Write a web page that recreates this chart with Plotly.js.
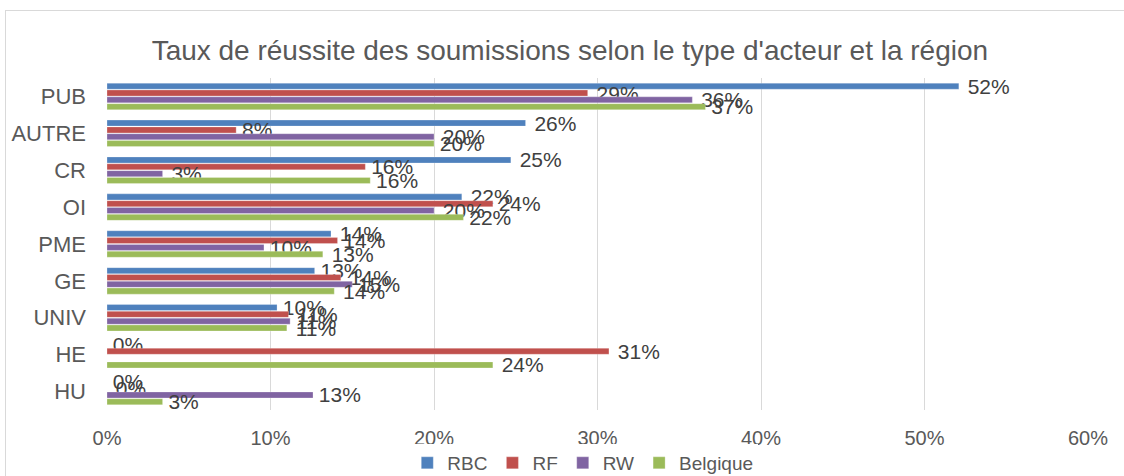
<!DOCTYPE html>
<html>
<head>
<meta charset="utf-8">
<script src="https://cdn.plot.ly/plotly-3.0.1.min.js"></script>
<style>
  html, body { margin: 0; padding: 0; background: #ffffff; }
  #wrap { position: relative; width: 1124px; height: 476px; overflow: hidden; }
  #chart { position: absolute; left: 0; top: 0; width: 1124px; height: 476px; }
  #frame { position: absolute; left: 5px; top: 10px; width: 1130px; height: 480px; border: 1px solid #d9d9d9; pointer-events: none; }
</style>
</head>
<body>
<div id="wrap">
  <div id="chart"></div>
  <div id="frame"></div>
</div>
<script>
// Categories (top to bottom)
const categories = ["PUB", "AUTRE", "CR", "OI", "PME", "GE", "UNIV", "HE", "HU"];
// Success rate (%) by region
const rbc      = [52.1, 25.6, 24.7, 21.7, 13.7, 12.7, 10.4, 0,    0];
const rf       = [29.4,  7.9, 15.8, 23.6, 14.1, 14.3, 11.1, 30.7, 0];
const rw       = [35.8, 20.0,  3.4, 20.0,  9.6, 15.0, 11.2, null, 12.6];
const belgique = [36.6, 20.0, 16.1, 21.8, 13.2, 13.9, 11.0, 23.6, 3.4];
const seriesNames = ["RBC", "RF", "RW", "Belgique"];
const seriesColors = ["#4F81BD", "#C0504D", "#8064A2", "#9BBB59"];
const xTicks = [0, 10, 20, 30, 40, 50, 60];

const FONT = "'Liberation Sans', Arial, sans-serif";

const allSeries = [rbc, rf, rw, belgique];
const traces = allSeries.map((vals, i) => ({
  type: "bar",
  orientation: "h",
  name: seriesNames[i],
  y: categories,
  x: vals,
  marker: { color: seriesColors[i], line: { color: "rgba(255,255,255,0.5)", width: 0.5 } },
  texttemplate: "\u00a0%{x:.0f}%",
  textposition: "outside",
  constraintext: "none",
  cliponaxis: false,
  textfont: { family: FONT, size: 21, color: "#404040" },
  hoverinfo: "x+y+name"
}));

const layout = {
  width: 1124,
  height: 476,
  margin: { l: 107, r: 36, t: 78, b: 66, pad: 0, autoexpand: false },
  paper_bgcolor: "#ffffff",
  plot_bgcolor: "#ffffff",
  font: { family: FONT, color: "#595959" },
  title: {
    text: "Taux de réussite des soumissions selon le type d'acteur et la région",
    font: { family: FONT, size: 28, color: "#595959" },
    x: 0.507, xanchor: "center",
    y: 1 - 50 / 476, yanchor: "middle", yref: "container"
  },
  barmode: "group",
  bargap: 0.26,
  bargroupgap: 0.12,
  xaxis: {
    range: [0, 60],
    tickvals: xTicks,
    ticktext: xTicks.map(v => v + "%"),
    showgrid: true,
    gridcolor: "#d9d9d9",
    gridwidth: 1,
    zeroline: false,
    showline: false,
    ticks: "",
    ticklabelstandoff: 14,
    tickfont: { family: FONT, size: 20, color: "#595959" },
    fixedrange: true
  },
  yaxis: {
    type: "category",
    autorange: "reversed",
    showgrid: false,
    zeroline: false,
    showline: false,
    ticks: "",
    ticklabelstandoff: 20,
    tickfont: { family: FONT, size: 22, color: "#595959" },
    fixedrange: true
  },
  showlegend: true,
  legend: {
    orientation: "h",
    x: 0.485, xanchor: "center",
    y: -53 / 332, yanchor: "middle",
    font: { family: FONT, size: 19, color: "#595959" },
    itemwidth: 30,
    tracegroupgap: 0
  }
};

Plotly.newPlot("chart", traces, layout, { displayModeBar: false, staticPlot: true });
</script>
</body>
</html>
